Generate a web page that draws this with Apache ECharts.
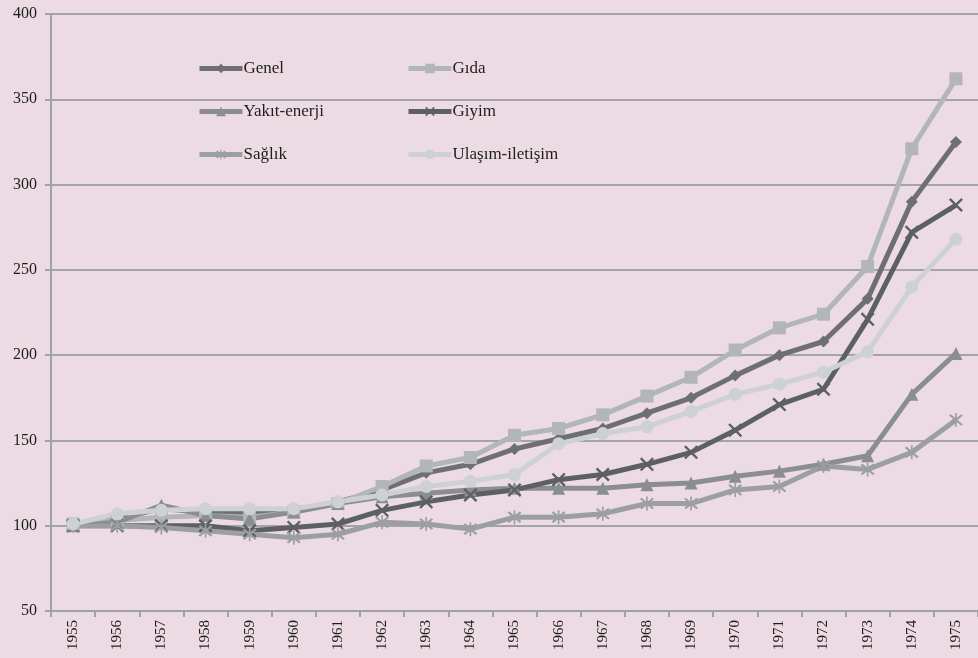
<!DOCTYPE html>
<html>
<head>
<meta charset="utf-8">
<script src="https://cdn.jsdelivr.net/npm/echarts@6/dist/echarts.min.js"></script>
<style>
html,body{margin:0;padding:0;background:#ecdbe3;}
#c{width:978px;height:658px;}
</style>
</head>
<body>
<div id="c"></div>
<script>
var years = ['1955','1956','1957','1958','1959','1960','1961','1962','1963','1964','1965','1966','1967','1968','1969','1970','1971','1972','1973','1974','1975'];
var genel    = [101, 104, 110, 108, 107, 109, 114, 121, 131, 136, 145, 151, 157, 166, 175, 188, 200, 208, 233, 290, 325];
var gida     = [101, 103, 105, 106, 105, 108, 113, 123, 135, 140, 153, 157, 165, 176, 187, 203, 216, 224, 252, 321, 362];
var yakit    = [100, 102, 112, 106, 104, 108, 113, 117, 119, 121, 122, 122, 122, 124, 125, 129, 132, 136, 141, 177, 201];
var giyim    = [100, 100, 100, 100, 97, 99, 101, 109, 114, 118, 121, 127, 130, 136, 143, 156, 171, 180, 221, 272, 288];
var saglik   = [100, 100, 99, 97, 95, 93, 95, 102, 101, 98, 105, 105, 107, 113, 113, 121, 123, 135, 133, 143, 162];
var ulasim   = [101, 107, 109, 110, 110, 110, 114, 118, 123, 126, 130, 148, 154, 158, 167, 177, 183, 190, 202, 240, 268];
var yTicks = [50, 400, 50]; // min, max, interval

var crossPath = 'path://M0,1.2 L1.2,0 L5,3.8 L8.8,0 L10,1.2 L6.2,5 L10,8.8 L8.8,10 L5,6.2 L1.2,10 L0,8.8 L3.8,5 Z';
var starPath = 'path://M0,1.2 L1.2,0 L5,3.8 L8.8,0 L10,1.2 L6.2,5 L10,8.8 L8.8,10 L5,6.2 L1.2,10 L0,8.8 L3.8,5 Z M4.4,-1 L5.6,-1 L5.6,11 L4.4,11 Z';

function mk(name, data, color, symbol, size){
  return {
    name: name, type: 'line', data: data,
    symbol: symbol, symbolSize: size,
    lineStyle: {color: color, width: 5},
    itemStyle: {color: color},
    emphasis: {disabled: true},
    animation: false
  };
}

var font = '"Liberation Serif", "DejaVu Serif", serif';
function lg(name, left, top){
  return {
    data: [name], left: left, top: top, itemWidth: 43, itemHeight: 12, itemGap: 0,
    padding: 0, selectedMode: false,
    lineStyle: {width: 5},
    textStyle: {fontFamily: font, fontSize: 17, color: '#1e1e1e', padding: [0,0,0,-4]}
  };
}

var chart = echarts.init(document.getElementById('c'), null, {renderer: 'canvas'});
chart.setOption({
  backgroundColor: '#ecdbe3',
  animation: false,
  grid: {left: 51, right: -4, top: 14, bottom: 47, containLabel: false},
  legend: [
    lg('Genel', 197, 60), lg('Gıda', 406, 60),
    lg('Yakıt-enerji', 197, 103), lg('Giyim', 406, 103),
    lg('Sağlık', 197, 146), lg('Ulaşım-iletişim', 406, 146)
  ],
  xAxis: {
    type: 'category', data: years, boundaryGap: true,
    axisLine: {lineStyle: {color: '#a0a2a6', width: 2}},
    axisTick: {show: true, length: 6, lineStyle: {color: '#a0a2a6', width: 2}},
    axisLabel: {rotate: 90, fontFamily: font, fontSize: 15, color: '#1e1e1e', margin: 9}
  },
  yAxis: {
    type: 'value', min: yTicks[0], max: yTicks[1], interval: yTicks[2],
    axisLine: {show: true, lineStyle: {color: '#a0a2a6', width: 2}},
    axisTick: {show: true, length: 6, lineStyle: {color: '#a0a2a6', width: 2}},
    splitLine: {show: true, lineStyle: {color: '#a3a3a8', width: 2}},
    axisLabel: {fontFamily: font, fontSize: 16, color: '#1e1e1e', margin: 14}
  },
  series: [
    mk('Genel', genel, '#6d6f71', 'diamond', 12),
    mk('Gıda', gida, '#b2b5b9', 'rect', 13),
    mk('Yakıt-enerji', yakit, '#8b8e91', 'triangle', 13),
    mk('Giyim', giyim, '#5d6061', crossPath, 14),
    mk('Sağlık', saglik, '#9c9fa2', starPath, 14),
    mk('Ulaşım-iletişim', ulasim, '#ced1d4', 'circle', 13)
  ]
});
</script>
</body>
</html>
